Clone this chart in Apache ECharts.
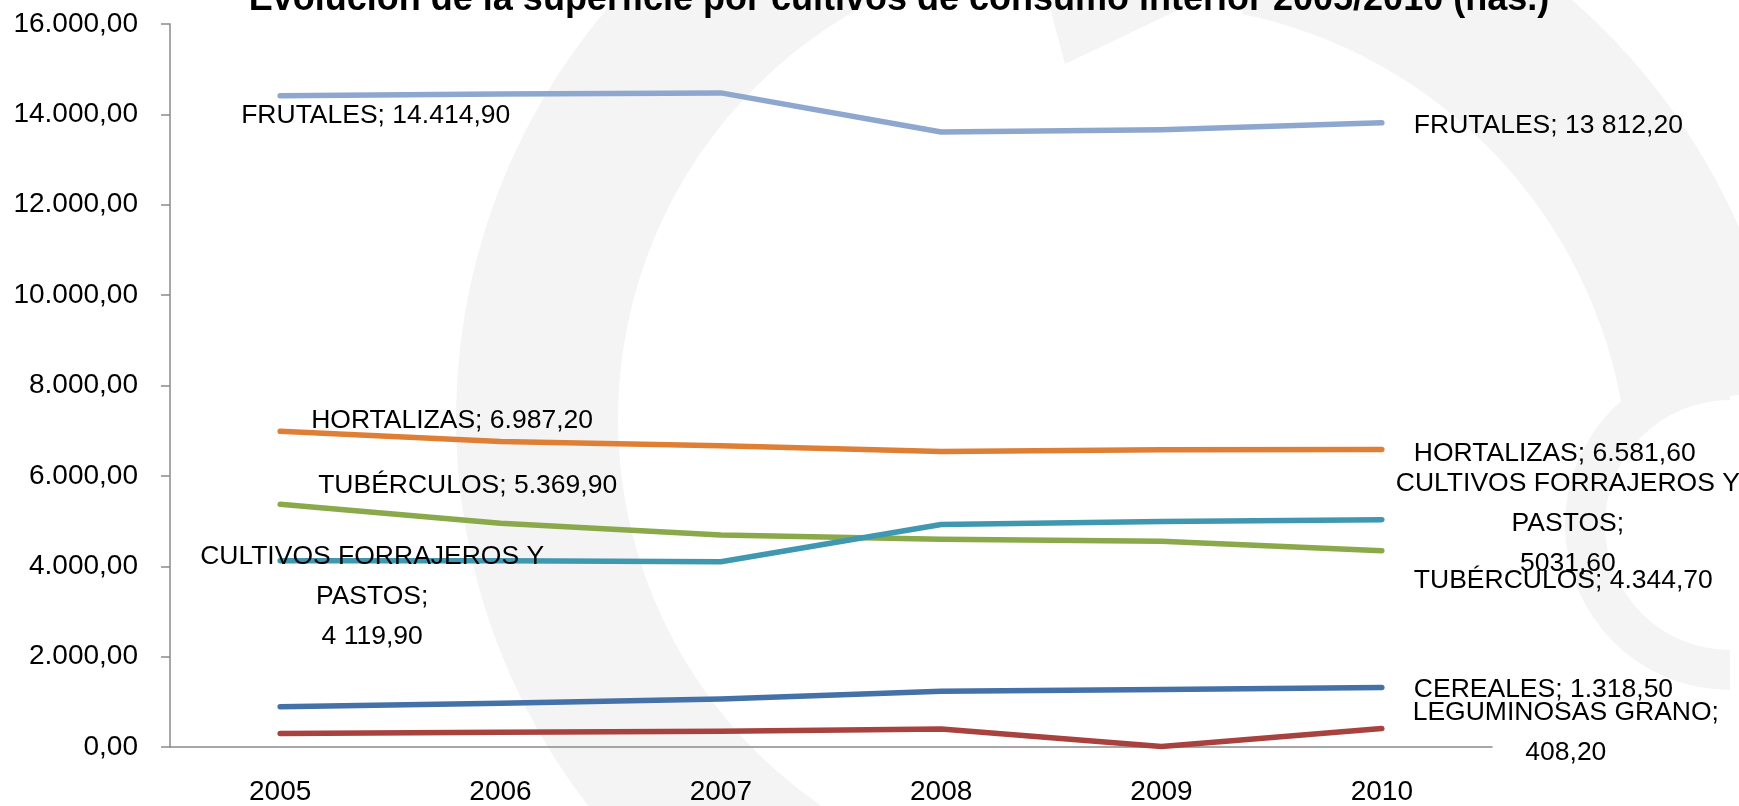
<!DOCTYPE html>
<html><head><meta charset="utf-8">
<script src="https://cdn.jsdelivr.net/npm/echarts@6/dist/echarts.min.js"></script>
<style>html,body{margin:0;padding:0;background:#fff}#c{width:1739px;height:806px}</style>
</head><body><div id="c"></div>
<script>
// ---- data ----
const years = ['2005', '2006', '2007', '2008', '2009', '2010'];
const seriesNames = ['FRUTALES', 'HORTALIZAS', 'TUBÉRCULOS', 'CULTIVOS FORRAJEROS Y PASTOS', 'CEREALES', 'LEGUMINOSAS GRANO'];
const frutales    = [14414.9, 14450, 14475, 13610, 13660, 13812.2];
const hortalizas  = [6987.2, 6760, 6665, 6540, 6580, 6581.6];
const tuberculos  = [5369.9, 4950, 4690, 4600, 4555, 4344.7];
const forrajeros  = [4119.9, 4120, 4100, 4925, 4990, 5031.6];
const cereales    = [890, 970, 1060, 1235, 1275, 1318.5];
const leguminosas = [300, 325, 350, 400, 10, 408.2];
const firstLabels = ['FRUTALES; 14.414,90', 'HORTALIZAS; 6.987,20', 'TUBÉRCULOS; 5.369,90', 'CULTIVOS FORRAJEROS Y\nPASTOS;\n4 119,90', null, null];
const lastLabels  = ['FRUTALES; 13 812,20', 'HORTALIZAS; 6.581,60', 'TUBÉRCULOS; 4.344,70', 'CULTIVOS FORRAJEROS Y\nPASTOS;\n5031,60', 'CEREALES; 1.318,50', 'LEGUMINOSAS GRANO;\n408,20'];
const titleText = 'Evolución de la superficie por cultivos de consumo interior 2005/2010 (has.)';
const yMin = 0, yMax = 16000, yStep = 2000;

// ---- styles ----
const values = [frutales, hortalizas, tuberculos, forrajeros, cereales, leguminosas];
const colors = ['#8EA7CF', '#DF7F36', '#89A94B', '#3F98B0', '#4471A8', '#A8423F'];
const FONT = 'Liberation Sans, Arial, sans-serif';
const firstPlace = [
  {align: 'left', offset: [-39, 20]},
  {align: 'left', offset: [31, -11]},
  {align: 'left', offset: [38, -19]},
  {align: 'center', offset: [92, 36]},
  null, null
];
const lastPlace = [
  {align: 'left', offset: [32, 3]},
  {align: 'left', offset: [32, 4]},
  {align: 'left', offset: [32, 30]},
  {align: 'center', offset: [186, 4]},
  {align: 'left', offset: [32, 2]},
  {align: 'center', offset: [184, 4]}
];

function fmtES(v) {
  const s = v.toFixed(2).split('.');
  return s[0].replace(/\B(?=(\d{3})+(?!\d))/g, '.') + ',' + s[1];
}

function mkLabel(text, place) {
  return {
    show: true, position: 'inside', formatter: text,
    align: place.align, verticalAlign: 'middle', offset: place.offset,
    color: '#000', fontFamily: FONT, fontSize: 26.5, lineHeight: 40
  };
}

const series = seriesNames.map((name, i) => ({
  name, type: 'line', z: 3,
  symbol: 'circle', symbolSize: 1, showSymbol: true,
  itemStyle: {color: colors[i]},
  lineStyle: {color: colors[i], width: 5.5, cap: 'round', join: 'round'},
  label: {show: false},
  emphasis: {disabled: true},
  animation: false,
  data: values[i].map((v, j) => {
    const item = {value: v};
    if (j === 0 && firstLabels[i]) item.label = mkLabel(firstLabels[i], firstPlace[i]);
    if (j === values[i].length - 1 && lastLabels[i]) item.label = mkLabel(lastLabels[i], lastPlace[i]);
    return item;
  })
}));

const wm = '#f4f4f4';
const chart = echarts.init(document.getElementById('c'), null, {renderer: 'canvas'});
chart.setOption({
  backgroundColor: '#fff',
  animation: false,
  title: {
    text: titleText, left: 894, textAlign: 'center', top: -23,
    textStyle: {fontFamily: FONT, fontWeight: 'bold', fontSize: 36, color: '#000'}
  },
  graphic: [
    {type: 'sector', z: -10, silent: true,
     shape: {cx: 1088, cy: 419, r0: 470, r: 632, startAngle: Math.PI * 0.6, endAngle: Math.PI * 1.36, clockwise: true},
     style: {fill: wm}},
    {type: 'sector', z: -10, silent: true,
     shape: {cx: 1144, cy: 489, r0: 485, r: 650, startAngle: Math.PI * 1.565, endAngle: Math.PI * 1.95, clockwise: true},
     style: {fill: wm}},
    {type: 'polygon', z: -10, silent: true,
     shape: {points: [[1040, -30], [1262, -30], [1065, 64]]},
     style: {fill: wm}},
    {type: 'sector', z: -10, silent: true,
     shape: {cx: 1730, cy: 525, r0: 125, r: 165, startAngle: Math.PI * 0.5, endAngle: Math.PI * 1.5, clockwise: true},
     style: {fill: wm}}
  ],
  grid: {left: 170, right: 247, top: 24, bottom: 54, containLabel: false},
  xAxis: {
    type: 'category', data: years, boundaryGap: true,
    axisLine: {lineStyle: {color: '#8a8a8a', width: 1.5}},
    axisTick: {show: false},
    axisLabel: {color: '#000', fontFamily: FONT, fontSize: 28, lineHeight: 28, margin: 31}
  },
  yAxis: {
    type: 'value', min: yMin, max: yMax, interval: yStep,
    axisLine: {show: true, lineStyle: {color: '#8a8a8a', width: 1.5}},
    axisTick: {show: true, length: 9, lineStyle: {color: '#8a8a8a', width: 1.5}},
    splitLine: {show: false},
    axisLabel: {color: '#000', fontFamily: FONT, fontSize: 28, margin: 32, formatter: v => fmtES(v)}
  },
  series
});
</script>
</body></html>
